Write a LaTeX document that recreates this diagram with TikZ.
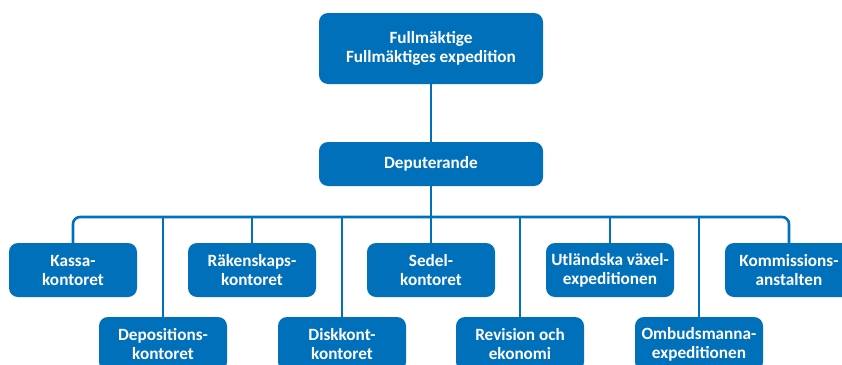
\documentclass[tikz,border=0pt]{standalone}
\usepackage{fontspec}
\setmainfont{Carlito}
\definecolor{orgblue}{RGB}{0,112,186}
\begin{document}
\begin{tikzpicture}[x=1pt,y=-1pt,
  orgbox/.style={draw=none, fill=orgblue, rounded corners=9pt, text=white,
    font=\bfseries\fontsize{17.2}{19}\selectfont, align=center, inner sep=0pt},
  unit/.style={orgbox, minimum width=128pt, minimum height=54pt},
  link/.style={draw=orgblue, line width=2.6pt}]
\useasboundingbox (0,0) rectangle (842,364);
\clip (0,0) rectangle (842,364);

% top levels
\node[orgbox, minimum width=224pt, minimum height=71pt] (full) at (431,48.5)
  {Fullmäktige\\Fullmäktiges expedition};
\node[orgbox, minimum width=224pt, minimum height=44pt] (dep) at (431,164) {Deputerande};

% first row of units
\node[unit] (kassa) at (73,270) {Kassa-\\kontoret};
\node[unit] (rak)   at (252,270) {Räkenskaps-\\kontoret};
\node[unit] (sedel) at (431,270) {Sedel-\\kontoret};
\node[unit] (utl)   at (610,270) {Utländska växel-\\expeditionen};
\node[unit] (komm)  at (789,270) {Kommissions-\\anstalten};

% second row of units
\node[unit] (depo)  at (163,344) {Depositions-\\kontoret};
\node[unit] (disk)  at (342,344) {Diskkont-\\kontoret};
\node[unit] (rev)   at (520,344) {Revision och\\ekonomi};
\node[unit] (ombud) at (699,344) {Ombudsmanna-\\expeditionen};

\coordinate (bus) at (431,217);

% connectors
\draw[link] (full.south) -- (dep.north);
\draw[link] (dep.south) -- (sedel.north);
\draw[link, rounded corners=7pt] (kassa.north) -- (kassa.north |- bus) -- (komm.north |- bus) -- (komm.north);
\foreach \n in {rak, utl, depo, disk, rev, ombud}
  \draw[link] (\n.north |- bus) -- (\n.north);
\end{tikzpicture}
\end{document}
